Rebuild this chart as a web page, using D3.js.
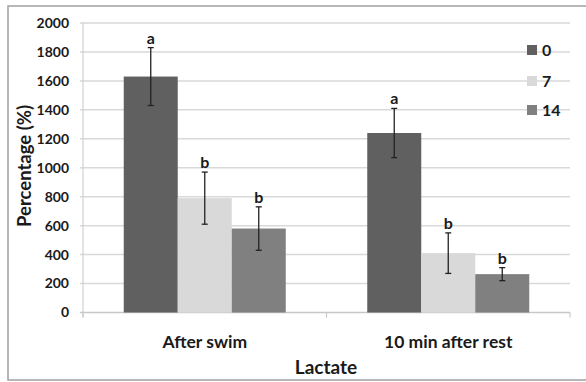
<!DOCTYPE html>
<html>
<head>
<meta charset="utf-8">
<script src="https://cdn.jsdelivr.net/npm/d3@7"></script>
<style>
  body { margin: 0; background: #fff; }
  text { font-family: Lato, "Open Sans", sans-serif; font-weight: bold; fill: #1a1a1a; }
</style>
</head>
<body>
<script>
// data
let groups = ["After swim", "10 min after rest"]
let series = ["0", "7", "14"]
let means = [[1630, 1240], [790, 410], [580, 265]]
let errs = [[200, 170], [180, 140], [150, 45]]
let letters = [["a", "a"], ["b", "b"], ["b", "b"]]
let yTicks = [0, 200, 400, 600, 800, 1000, 1200, 1400, 1600, 1800, 2000]
let colors = ["#606060", "#d9d9d9", "#808080"]

let width = 586, height = 382

let svg = d3.select('body').append('svg')
  .attr("width", width).attr("height", height)

// outer frame
svg.append("rect")
  .attr("x", 8).attr("y", 6).attr("width", 584).attr("height", 374)
  .attr("fill", "none").attr("stroke", "#a0a0a0").attr("stroke-width", 1.5)

let x0 = d3.scaleBand().domain(groups).range([83, 570])
let y = d3.scaleLinear().domain([0, 2000]).range([312.5, 23])

// gridlines
svg.selectAll(".grid").data(yTicks).enter()
  .append("line")
  .attr("x1", 80).attr("x2", 570)
  .attr("y1", d => y(d)).attr("y2", d => y(d))
  .attr("stroke", d => d == 0 ? "#c8c8c8" : "#d9d9d9")
  .attr("stroke-width", 1.5)

// y axis line
svg.append("line").attr("x1", 83).attr("x2", 83)
  .attr("y1", y(2000)).attr("y2", y(0) + 5)
  .attr("stroke", "#d0d0d0").attr("stroke-width", 1.2)

// category tick marks
svg.selectAll(".ctick").data([83, x0.range()[0] + x0.bandwidth(), 570]).enter()
  .append("line")
  .attr("x1", d => d).attr("x2", d => d)
  .attr("y1", y(0)).attr("y2", y(0) + 5)
  .attr("stroke", "#c8c8c8").attr("stroke-width", 1.2)

// y tick labels
svg.selectAll(".ylab").data(yTicks).enter()
  .append("text")
  .attr("x", 69).attr("y", d => y(d))
  .attr("dy", "0.35em").attr("text-anchor", "end")
  .style("font-size", "14px")
  .text(d => d)

let barW = 54
let barX = (g, s) => x0(groups[g]) + x0.bandwidth() / 2 + (s - 1.5) * barW

series.forEach((s, si) => {
  groups.forEach((g, gi) => {
    let v = means[si][gi], e = errs[si][gi]
    let bx = barX(gi, si)
    svg.append("rect")
      .attr("x", bx).attr("y", y(v))
      .attr("width", barW).attr("height", y(0) - y(v))
      .attr("fill", colors[si])
    let cx = bx + barW / 2
    let eb = svg.append("g").attr("stroke", "#222").attr("stroke-width", 1.3)
    eb.append("line").attr("x1", cx).attr("x2", cx).attr("y1", y(v + e)).attr("y2", y(v - e))
    eb.append("line").attr("x1", cx - 3).attr("x2", cx + 3).attr("y1", y(v + e)).attr("y2", y(v + e))
    eb.append("line").attr("x1", cx - 3).attr("x2", cx + 3).attr("y1", y(v - e)).attr("y2", y(v - e))
    svg.append("text")
      .attr("x", cx).attr("y", y(v + e) - 4)
      .attr("text-anchor", "middle")
      .style("font-size", "16px")
      .text(letters[si][gi])
  })
})

// category labels
svg.selectAll(".xlab").data(groups).enter()
  .append("text")
  .attr("x", d => x0(d) + x0.bandwidth() / 2)
  .attr("y", 348)
  .attr("text-anchor", "middle")
  .style("font-size", "17.5px")
  .text(d => d)

// axis titles
svg.append("text")
  .attr("x", 326).attr("y", 374)
  .attr("text-anchor", "middle")
  .style("font-size", "19px")
  .text("Lactate")

svg.append("text")
  .attr("transform", "translate(31,166) rotate(-90)")
  .attr("text-anchor", "middle")
  .style("font-size", "18.5px")
  .text("Percentage (%)")

// legend
let legY = [50, 81, 110]
series.forEach((s, i) => {
  svg.append("rect")
    .attr("x", 527).attr("y", legY[i] - 5)
    .attr("width", 10).attr("height", 10)
    .attr("fill", colors[i])
  svg.append("text")
    .attr("x", 542).attr("y", legY[i])
    .attr("dy", "0.35em")
    .style("font-size", "16px")
    .text(s)
})
</script>
</body>
</html>
